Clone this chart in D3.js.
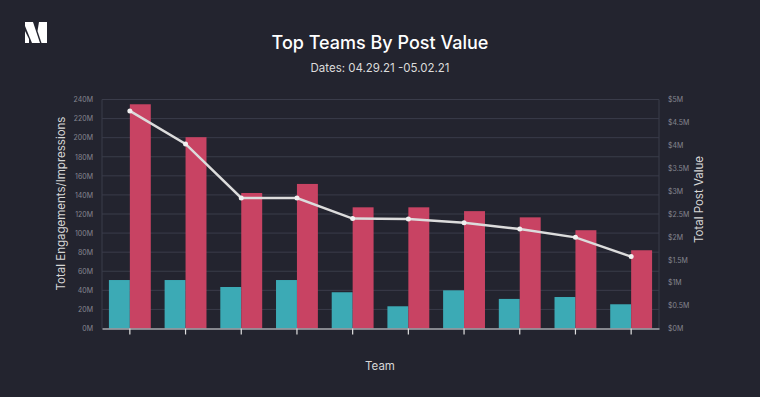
<!DOCTYPE html>
<html>
<head>
<meta charset="utf-8">
<script src="https://cdn.jsdelivr.net/npm/d3@7"></script>
<style>
  html, body { margin: 0; padding: 0; background: #23242f; }
  svg { display: block; }
  text { font-family: Inter, "Noto Sans", sans-serif; }
</style>
</head>
<body>
<svg id="chart" width="760" height="397"></svg>
<script>
const teams = ["T1","T2","T3","T4","T5","T6","T7","T8","T9","T10"];
const engagements = [50.8, 50.8, 43.5, 50.8, 38, 23.3, 40, 31, 33, 25.4];      // millions
const impressions = [235, 200.5, 142, 151.5, 127, 127, 123, 116.5, 103, 82];  // millions
const postValue = [4.75, 4.03, 2.85, 2.85, 2.40, 2.39, 2.31, 2.17, 1.99, 1.57]; // $ millions
const leftTicks = [0,20,40,60,80,100,120,140,160,180,200,220,240];
const rightTicks = [0,0.5,1,1.5,2,2.5,3,3.5,4,4.5,5];
const seriesKeys = ["engagements","impressions"];
const seriesColors = ["#3caab5", "#c84363"];

const svg = d3.select("#chart");
const W = 760, H = 397;
const m = {left: 102, right: 659, top: 99.5, bottom: 328.5};

svg.append("rect").attr("width", W).attr("height", H).attr("fill", "#23242f");

// logo
const logo = svg.append("g").attr("transform", "translate(25,22)").attr("fill", "#ffffff");
logo.append("path").attr("d", "M0,0 L8,0 L15,21 L7,21 L0,4 Z");
logo.append("path").attr("d", "M0,9 L4,17 L4,21 L0,21 Z");
logo.append("path").attr("d", "M14,0 L22,0 L22,21 L16.5,21 L12.5,9 Z");

// titles
svg.append("text").attr("x", 380).attr("y", 49).attr("text-anchor", "middle")
  .attr("fill", "#ffffff").attr("font-size", 18).attr("font-weight", 500)
  .text("Top Teams By Post Value");
svg.append("text").attr("x", 380).attr("y", 72).attr("text-anchor", "middle")
  .attr("fill", "#dcdcdc").attr("font-size", 11.5)
  .text("Dates: 04.29.21 -05.02.21");

const x0 = d3.scaleBand().domain(teams).range([m.left, m.right]).padding(0);
const x1 = d3.scaleBand().domain(seriesKeys).range([0, x0.bandwidth()]).paddingInner(0).paddingOuter(0.33);
const yL = d3.scaleLinear().domain([0, 240]).range([m.bottom, m.top]);
const yR = d3.scaleLinear().domain([0, 5]).range([m.bottom, m.top]);

// gridlines
svg.append("g").selectAll("line").data(leftTicks.filter(d => d > 0)).join("line")
  .attr("x1", m.left).attr("x2", m.right)
  .attr("y1", d => yL(d)).attr("y2", d => yL(d))
  .attr("stroke", "#3a3c4a").attr("stroke-width", 1);

// side vertical lines
svg.append("line").attr("x1", m.left).attr("x2", m.left).attr("y1", m.top).attr("y2", m.bottom)
  .attr("stroke", "#3a3c4a");
svg.append("line").attr("x1", m.right).attr("x2", m.right).attr("y1", m.top).attr("y2", m.bottom)
  .attr("stroke", "#3a3c4a");

// left axis
const gL = svg.append("g").attr("transform", `translate(${m.left - 6},0)`)
  .call(d3.axisLeft(yL).tickValues(leftTicks).tickSize(0).tickFormat(d => d + "M"));
gL.select(".domain").remove();
gL.selectAll("text").attr("fill", "#85868f").attr("font-size", 7).attr("font-family", "Inter, sans-serif");

// right axis
const gR = svg.append("g").attr("transform", `translate(${m.right + 6},0)`)
  .call(d3.axisRight(yR).tickValues(rightTicks).tickSize(0).tickFormat(d => "$" + d + "M"));
gR.select(".domain").remove();
gR.selectAll("text").attr("fill", "#85868f").attr("font-size", 7).attr("font-family", "Inter, sans-serif");

// bars
const groups = svg.append("g").selectAll("g").data(teams).join("g")
  .attr("transform", d => `translate(${x0(d)},0)`);
groups.selectAll("rect").data((d, i) => [
    {key: "engagements", v: engagements[i]},
    {key: "impressions", v: impressions[i]}
  ]).join("rect")
  .attr("x", d => x1(d.key))
  .attr("width", x1.bandwidth())
  .attr("y", d => yL(d.v))
  .attr("height", d => yL(0) - yL(d.v))
  .attr("fill", (d, j) => seriesColors[j]);

// x axis
const gX = svg.append("g").attr("transform", `translate(0,${m.bottom})`)
  .call(d3.axisBottom(x0).tickSizeInner(6).tickSizeOuter(0).tickFormat(""));
gX.select(".domain").attr("stroke", "#a9aab0").attr("stroke-width", 1.5);
gX.selectAll(".tick line").attr("stroke", "#e0e0e0").attr("stroke-width", 1.2);

// line
const cx = d => x0(d) + x0.bandwidth() / 2;
const line = d3.line().x((d, i) => cx(teams[i])).y(d => yR(d));
svg.append("path").datum(postValue).attr("d", line)
  .attr("fill", "none").attr("stroke", "#dcdcdc").attr("stroke-width", 2.5);
svg.append("g").selectAll("circle").data(postValue).join("circle")
  .attr("cx", (d, i) => cx(teams[i])).attr("cy", d => yR(d)).attr("r", 2.5)
  .attr("fill", "#f0f0f0");

// axis titles
const titleFont = "'Liberation Sans', Arial, sans-serif";
svg.append("text").attr("transform", "translate(65,203.5) rotate(-90)")
  .attr("text-anchor", "middle").attr("fill", "#d6d6d6").attr("font-size", 11.5)
  .attr("font-family", titleFont)
  .text("Total Engagements/Impressions");
svg.append("text").attr("transform", "translate(703,199.5) rotate(-90)")
  .attr("text-anchor", "middle").attr("fill", "#d6d6d6").attr("font-size", 11.5)
  .attr("font-family", titleFont)
  .text("Total Post Value");
svg.append("text").attr("x", 380).attr("y", 370).attr("text-anchor", "middle")
  .attr("fill", "#d6d6d6").attr("font-size", 11.5)
  .attr("font-family", titleFont)
  .text("Team");
</script>
</body>
</html>
